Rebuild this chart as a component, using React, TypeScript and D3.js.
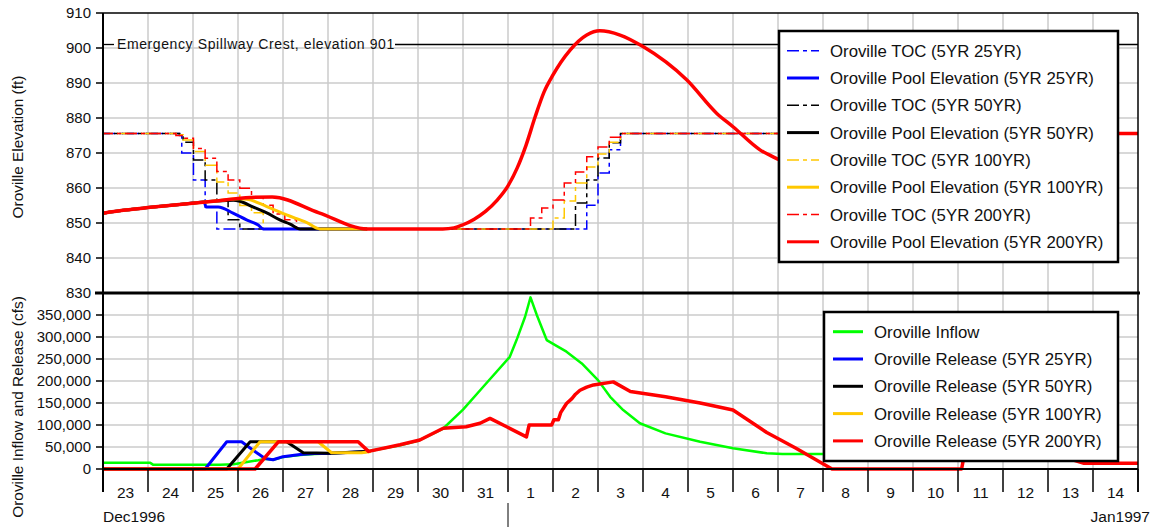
import React from 'react';
import * as d3 from 'd3';

type P = [number, number];

// x values are days since Dec 23 1996 00:00
const dayLabels = ['23','24','25','26','27','28','29','30','31','1','2','3','4','5','6','7','8','9','10','11','12','13','14'];
const elevTicks = [830, 840, 850, 860, 870, 880, 890, 900, 910];
const flowTicks = [0, 50000, 100000, 150000, 200000, 250000, 300000, 350000];
const spillwayCrest = 901;

const toc25: P[] = [[0,875.6],[1.7,875.0],[1.75,870],[2.01,862.3],[2.27,854.6],[2.53,848.3],[10.75,855.1],[11.0,864.3],[11.25,870.9],[11.5,875.6],[23,875.6]];
const toc50: P[] = [[0,875.6],[1.7,875.3],[1.78,873.1],[2.01,868],[2.27,862.3],[2.53,856.6],[2.78,850.9],[3.04,848.3],[10.5,855.7],[10.75,862.3],[11.0,868.6],[11.25,872.9],[11.5,875.6],[23,875.6]];
const toc100: P[] = [[0,875.6],[1.7,875.2],[1.78,873.7],[2.01,870.4],[2.27,866.5],[2.53,861.7],[2.78,858.6],[3.04,855],[3.3,852.9],[3.56,848.3],[10.0,851.4],[10.25,856.3],[10.5,861.4],[10.75,866],[11.0,869.7],[11.25,873.1],[11.5,875.6],[23,875.6]];
const toc200: P[] = [[0,875.6],[1.62,875],[1.78,874.2],[2.01,871.3],[2.27,868.5],[2.53,864.7],[2.78,862.3],[3.04,859.9],[3.3,857.3],[3.56,855.1],[3.78,852.6],[4.04,850.9],[4.3,848.3],[9.5,851.4],[9.75,854.3],[10.0,856.6],[10.25,861.4],[10.5,864.6],[10.75,868.9],[11.0,871.7],[11.25,874.5],[11.5,875.6],[23,875.6]];

const pool25: P[] = [[0,852.8],[0.5,853.7],[1,854.4],[1.7,855.3],[2.25,855.9],[2.29,854.6],[2.56,854.6],[2.89,852.8],[3.19,850.9],[3.45,849.4],[3.56,848.3],[5.87,848.3]];
const pool50: P[] = [[0,852.8],[0.5,853.7],[1,854.4],[1.7,855.3],[2.45,856.2],[2.9,856.5],[3.04,856.2],[3.33,854.6],[3.64,852.9],[3.93,850.9],[4.16,849.7],[4.38,848.3],[5.87,848.3]];
const pool100: P[] = [[0,852.8],[0.5,853.7],[1,854.4],[1.7,855.3],[2.45,856.2],[3.04,856.9],[3.2,856.8],[3.64,854.7],[4.08,852.3],[4.53,850.1],[4.82,848.3],[5.87,848.3]];
const pool200: P[] = [[0,852.8],[0.5,853.7],[1,854.4],[1.7,855.3],[2.45,856.2],[3.27,857.3],[3.76,857.4],[4.8,852.9],[5.87,848.3],[7.55,848.3],[7.8,848.6],[8.0,849.5],[8.25,851.1],[8.5,853.3],[8.75,856.4],[9.0,860.6],[9.2,865.6],[9.4,872.2],[9.6,880.2],[9.8,887.4],[10.0,892.3],[10.38,899.4],[10.75,903.7],[11.04,904.9],[11.49,903.7],[12.0,900.4],[12.97,890.9],[13.64,881.3],[14.0,877.5],[14.6,870.9],[15.04,868],[16,862],[17,858],[18.5,857],[20,862],[21.5,872],[22,875.6],[23,875.6]];

const inflow: P[] = [[0,14000],[1.05,14000],[1.12,9500],[2.6,9500],[2.9,11000],[3.2,16000],[3.45,20000],[3.6,23000],[3.78,21000],[4.0,27000],[4.38,32000],[4.7,34000],[5.0,35000],[5.87,40000],[6.6,54000],[7.0,64000],[7.56,92000],[8.0,135000],[8.45,187000],[9.04,255000],[9.19,293000],[9.38,346000],[9.5,390000],[9.64,350000],[9.86,293000],[10.04,282000],[10.3,266600],[10.64,240000],[11.0,202000],[11.27,164000],[11.56,134000],[11.93,104000],[12.5,81000],[13.27,62000],[14.0,47000],[14.75,35700],[15.1,34000],[16.0,34000],[17,30000]];
const release25: P[] = [[0,0],[2.27,0],[2.75,62000],[3.08,62000],[3.4,38000],[3.6,24000],[3.78,21000],[4.0,28000],[4.38,33000],[4.7,35000],[5.0,35000],[5.87,40000]];
const release50: P[] = [[0,0],[2.75,0],[3.27,62000],[4.08,62000],[4.45,37000],[5.04,36000],[5.87,40000]];
const release100: P[] = [[0,0],[3.0,0],[3.49,62000],[4.78,62000],[5.08,37000],[5.75,37000],[5.95,40000]];
const release200: P[] = [[0,0],[3.38,0],[3.9,62000],[5.67,62000],[5.9,40000],[6.6,55000],[7.04,66000],[7.56,92500],[8.07,96000],[8.38,104000],[8.6,115000],[8.97,96000],[9.41,73000],[9.47,100000],[9.97,100000],[10.02,112000],[10.12,112000],[10.17,128000],[10.3,149000],[10.42,160000],[10.5,170000],[10.6,179000],[10.75,186000],[10.9,191000],[11.34,198000],[11.72,176000],[12.5,164000],[13.27,150000],[14.0,134000],[14.75,83000],[15.4,47000],[16.2,0],[19.08,0],[19.12,21500],[21.55,21000],[21.8,13000],[23,13000]];

const BLUE = '#0000ff';
const BLACK = '#000000';
const YELLOW = '#ffc800';
const RED = '#ff0000';
const GREEN = '#00ff00';
const FONT = '"Liberation Sans", Arial, sans-serif';
const DASH = '12,4,4,4';

const topLegend = [
  { label: 'Oroville TOC (5YR 25YR)', color: BLUE, dash: true },
  { label: 'Oroville Pool Elevation (5YR 25YR)', color: BLUE, dash: false },
  { label: 'Oroville TOC (5YR 50YR)', color: BLACK, dash: true },
  { label: 'Oroville Pool Elevation (5YR 50YR)', color: BLACK, dash: false },
  { label: 'Oroville TOC (5YR 100YR)', color: YELLOW, dash: true },
  { label: 'Oroville Pool Elevation (5YR 100YR)', color: YELLOW, dash: false },
  { label: 'Oroville TOC (5YR 200YR)', color: RED, dash: true },
  { label: 'Oroville Pool Elevation (5YR 200YR)', color: RED, dash: false },
];
const bottomLegend = [
  { label: 'Oroville Inflow', color: GREEN },
  { label: 'Oroville Release (5YR 25YR)', color: BLUE },
  { label: 'Oroville Release (5YR 50YR)', color: BLACK },
  { label: 'Oroville Release (5YR 100YR)', color: YELLOW },
  { label: 'Oroville Release (5YR 200YR)', color: RED },
];

export default function App() {
  const W = 1157, H = 529;
  const L = 103, R = 1138;
  const x = d3.scaleLinear().domain([0, 23]).range([L, R]);
  const yE = d3.scaleLinear().domain([830, 910]).range([293, 13]);
  const yF = d3.scaleLinear().domain([0, 400000]).range([469, 293]);

  const stepE = d3.line<P>().x(d => x(d[0])).y(d => yE(d[1])).curve(d3.curveStepAfter);
  const smoothE = d3.line<P>().x(d => x(d[0])).y(d => yE(d[1])).curve(d3.curveMonotoneX);
  const lineF = d3.line<P>().x(d => x(d[0])).y(d => yF(d[1]));

  const fmt = d3.format(',');
  const days = d3.range(0, 24);
  const grid = '#cbcbcb';

  return (
    <svg width={W} height={H} style={{ position: 'absolute', left: 0, top: 0, background: '#fff' }} fontFamily={FONT}>
      <defs>
        <clipPath id="clipTop"><rect x={L} y={13} width={R - L} height={280} /></clipPath>
        <clipPath id="clipBot"><rect x={L} y={293} width={R - L} height={180} /></clipPath>
      </defs>
      <rect width={W} height={H} fill="#fff" />
      {/* grid */}
      {days.slice(1, -1).map(d => (
        <line key={'vg' + d} x1={x(d)} x2={x(d)} y1={13} y2={469} stroke={grid} strokeWidth={1.5} />
      ))}
      {elevTicks.slice(1, -1).map(v => (
        <line key={'hg' + v} x1={L} x2={R} y1={yE(v)} y2={yE(v)} stroke={grid} strokeWidth={1.5} />
      ))}
      {flowTicks.slice(1).map(v => (
        <line key={'fg' + v} x1={L} x2={R} y1={yF(v)} y2={yF(v)} stroke={grid} strokeWidth={1.5} />
      ))}

      {/* spillway crest */}
      <line x1={L} x2={114} y1={yE(spillwayCrest)} y2={yE(spillwayCrest)} stroke="#000" strokeWidth={1.3} />
      <line x1={395} x2={R} y1={yE(spillwayCrest)} y2={yE(spillwayCrest)} stroke="#000" strokeWidth={1.3} />
      <text x={117} y={yE(spillwayCrest) + 4.5} fontSize={14} letterSpacing={0.6} fill="#111">Emergency Spillway Crest, elevation 901</text>

      {/* top series */}
      <g clipPath="url(#clipTop)" fill="none">
        <path d={stepE(toc25) || ''} stroke={BLUE} strokeWidth={1.5} strokeDasharray={DASH} />
        <path d={stepE(toc50) || ''} stroke={BLACK} strokeWidth={1.5} strokeDasharray={DASH} strokeDashoffset={5} />
        <path d={stepE(toc100) || ''} stroke={YELLOW} strokeWidth={1.5} strokeDasharray={DASH} strokeDashoffset={10} />
        <path d={stepE(toc200) || ''} stroke={RED} strokeWidth={1.5} strokeDasharray={DASH} strokeDashoffset={2} />
        <path d={smoothE(pool25) || ''} stroke={BLUE} strokeWidth={3} />
        <path d={smoothE(pool50) || ''} stroke={BLACK} strokeWidth={3} />
        <path d={smoothE(pool100) || ''} stroke={YELLOW} strokeWidth={3} />
        <path d={smoothE(pool200) || ''} stroke={RED} strokeWidth={3.5} />
      </g>

      {/* bottom series */}
      <g clipPath="url(#clipBot)" fill="none" strokeLinejoin="round">
        <path d={lineF(inflow) || ''} stroke={GREEN} strokeWidth={2.5} />
        <path d={lineF(release25) || ''} stroke={BLUE} strokeWidth={3} />
        <path d={lineF(release50) || ''} stroke={BLACK} strokeWidth={3} />
        <path d={lineF(release100) || ''} stroke={YELLOW} strokeWidth={3} />
        <path d={lineF(release200) || ''} stroke={RED} strokeWidth={3.5} />
      </g>

      {/* frame */}
      <line x1={L} x2={R} y1={13} y2={13} stroke="#000" strokeWidth={1.5} />
      <line x1={R} x2={R} y1={13} y2={492} stroke="#000" strokeWidth={1.5} />
      <line x1={L} x2={L} y1={13} y2={492} stroke="#000" strokeWidth={2} />
      <line x1={95} x2={1140} y1={293} y2={293} stroke="#000" strokeWidth={3} />
      <line x1={L} x2={R} y1={469} y2={469} stroke="#000" strokeWidth={2} />

      {/* y ticks top */}
      {elevTicks.map(v => (
        <g key={'et' + v}>
          <line x1={96} x2={L} y1={yE(v)} y2={yE(v)} stroke="#000" strokeWidth={1.5} />
          <text x={91} y={yE(v)} dy="0.36em" textAnchor="end" fontSize={15} fill="#111">{v}</text>
        </g>
      ))}
      {flowTicks.map(v => (
        <g key={'ft' + v}>
          <line x1={96} x2={L} y1={yF(v)} y2={yF(v)} stroke="#000" strokeWidth={1.5} />
          <text x={91} y={yF(v)} dy="0.36em" textAnchor="end" fontSize={15} fill="#111">{fmt(v)}</text>
        </g>
      ))}

      {/* x ticks */}
      {days.map(d => (
        <line key={'xt' + d} x1={x(d)} x2={x(d)} y1={469} y2={492} stroke="#000" strokeWidth={1.5} />
      ))}
      {dayLabels.map((lab, i) => (
        <text key={'xl' + i} x={x(i + 0.5)} y={498} textAnchor="middle" fontSize={15.5} fill="#111">{lab}</text>
      ))}
      <text x={L} y={522} fontSize={15.5} fill="#111">Dec1996</text>
      <text x={1150} y={522} textAnchor="end" fontSize={15.5} fill="#111">Jan1997</text>
      <line x1={x(9)} x2={x(9)} y1={503} y2={527} stroke="#000" strokeWidth={1} />

      {/* axis titles */}
      <text transform={`translate(23,147) rotate(-90)`} textAnchor="middle" fontSize={15.4} fill="#111">Oroville Elevation (ft)</text>
      <text transform={`translate(23,407) rotate(-90)`} textAnchor="middle" fontSize={15.4} fill="#111">Oroville Inflow and Release (cfs)</text>

      {/* top legend */}
      <rect x={779} y={31} width={339} height={231} fill="#fff" stroke="#000" strokeWidth={2.5} />
      {topLegend.map((e, i) => {
        const cy = 50.7 + i * 27.3;
        return (
          <g key={'tl' + i}>
            <line x1={787} x2={819} y1={cy} y2={cy} stroke={e.color} strokeWidth={e.dash ? 1.5 : 3} strokeDasharray={e.dash ? DASH : undefined} />
            <text x={830} y={cy + 6} fontSize={16.8} fill="#111">{e.label}</text>
          </g>
        );
      })}

      {/* bottom legend */}
      <rect x={824} y={312} width={294} height={149} fill="#fff" stroke="#000" strokeWidth={2.5} />
      {bottomLegend.map((e, i) => {
        const cy = 331.7 + i * 27.3;
        return (
          <g key={'bl' + i}>
            <line x1={833} x2={863} y1={cy} y2={cy} stroke={e.color} strokeWidth={3} />
            <text x={874} y={cy + 6} fontSize={16.8} fill="#111">{e.label}</text>
          </g>
        );
      })}
    </svg>
  );
}
